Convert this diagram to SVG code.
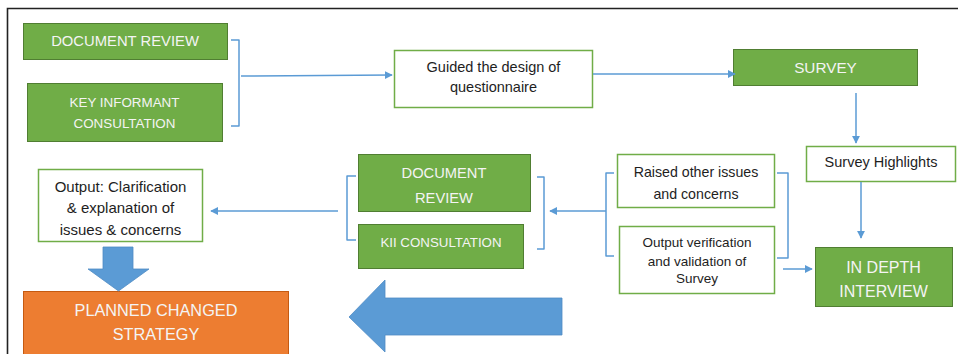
<svg xmlns="http://www.w3.org/2000/svg" width="958" height="354" viewBox="0 0 958 354">
  <defs>
    <marker id="arrow" viewBox="0 0 10 10" refX="9" refY="5" markerWidth="5.5" markerHeight="5.5" orient="auto" markerUnits="strokeWidth">
      <path d="M0,0 L10,5 L0,10 Z" fill="#5B9BD5"/>
    </marker>
    <style>
      .green { fill: #70AD47; stroke: #507E32; stroke-width: 1; }
      .white { fill: #FFFFFF; stroke: #70AD47; stroke-width: 1.5; }
      .orange { fill: #ED7D31; stroke: #C55A11; stroke-width: 1; }
      .block { fill: #5B9BD5; stroke: #4F8CC4; stroke-width: 0.8; }
      .lt { font-family: "Liberation Sans", Arial, sans-serif; fill: #F4F4F4; text-anchor: middle; }
      .dt { font-family: "Liberation Sans", Arial, sans-serif; fill: #1E1E1E; text-anchor: middle; }
      .conn { fill: none; stroke: #5B9BD5; stroke-width: 1.5; stroke-linejoin: round; }
    </style>
  </defs>

  <rect x="0" y="0" width="958" height="354" fill="#FFFFFF"/>
  <!-- outer frame -->
  <path d="M7.5,354 V8.5 H958" fill="none" stroke="#222" stroke-width="1.6"/>

  <g id="doc-review-1">
    <rect class="green" x="23.5" y="23.5" width="204" height="36"/>
    <text class="lt" x="125" y="46" font-size="14.8">DOCUMENT REVIEW</text>
  </g>

  <g id="key-informant">
    <rect class="green" x="27.5" y="83.5" width="195" height="58"/>
    <text class="lt" x="124.5" y="107" font-size="13.4">KEY INFORMANT</text>
    <text class="lt" x="124.5" y="128" font-size="13.4">CONSULTATION</text>
  </g>

  <g id="guided">
    <rect class="white" x="394.5" y="50.5" width="198" height="57"/>
    <text class="dt" x="493.5" y="72" font-size="14.5">Guided the design of</text>
    <text class="dt" x="493.5" y="92" font-size="14.5">questionnaire</text>
  </g>

  <g id="survey">
    <rect class="green" x="733.5" y="49.5" width="184" height="36"/>
    <text class="lt" x="825.5" y="73" font-size="15.3">SURVEY</text>
  </g>

  <g id="survey-highlights">
    <rect class="white" x="806.5" y="146.5" width="149" height="35"/>
    <text class="dt" x="881" y="167" font-size="14.5">Survey Highlights</text>
  </g>

  <g id="in-depth-interview">
    <rect class="green" x="815.5" y="247.5" width="137" height="59"/>
    <text class="lt" x="883.5" y="273" font-size="16">IN DEPTH</text>
    <text class="lt" x="883.5" y="297" font-size="16">INTERVIEW</text>
  </g>

  <g id="raised-issues">
    <rect class="white" x="617.5" y="154.5" width="157" height="53"/>
    <text class="dt" x="696" y="177" font-size="14.2">Raised other issues</text>
    <text class="dt" x="696" y="199" font-size="14.2">and concerns</text>
  </g>

  <g id="output-verification">
    <rect class="white" x="619.5" y="226.5" width="155" height="67"/>
    <text class="dt" x="697" y="247" font-size="13.5">Output verification</text>
    <text class="dt" x="697" y="266" font-size="13.5">and validation of</text>
    <text class="dt" x="697" y="283" font-size="13.5">Survey</text>
  </g>

  <g id="doc-review-2">
    <rect class="green" x="358.5" y="154.5" width="172" height="57"/>
    <text class="lt" x="444" y="178" font-size="14.7">DOCUMENT</text>
    <text class="lt" x="444" y="203" font-size="14.7">REVIEW</text>
  </g>

  <g id="kii-consultation">
    <rect class="green" x="358.5" y="224.5" width="165" height="44"/>
    <text class="lt" x="441" y="247" font-size="13.3">KII CONSULTATION</text>
  </g>

  <g id="output-clarification">
    <rect class="white" x="38.5" y="169.5" width="164" height="72"/>
    <text class="dt" x="120.5" y="192" font-size="15">Output: Clarification</text>
    <text class="dt" x="120.5" y="213" font-size="15">&amp; explanation of</text>
    <text class="dt" x="120.5" y="235" font-size="15">issues &amp; concerns</text>
  </g>

  <g id="planned-strategy">
    <rect class="orange" x="23.5" y="291.5" width="265" height="70"/>
    <text class="lt" x="156" y="316" font-size="16.3">PLANNED CHANGED</text>
    <text class="lt" x="156" y="340" font-size="16.3">STRATEGY</text>
  </g>

  <g id="connectors">
    <!-- bracket joining the two initial inputs -->
    <path class="conn" d="M231,40 H239 V126 H231"/>
    <path class="conn" d="M241,76 L392,75" marker-end="url(#arrow)"/>
    <path class="conn" d="M593,74 H735" marker-end="url(#arrow)"/>
    <path class="conn" d="M856,93 V143" marker-end="url(#arrow)"/>
    <path class="conn" d="M861,182 V238" marker-end="url(#arrow)"/>
    <!-- bracket round raised issues / output verification -->
    <path class="conn" d="M777,173 H788 V258 H777"/>
    <path class="conn" d="M783,269 H812" marker-end="url(#arrow)"/>
    <path class="conn" d="M614,173 H606 V256 H614"/>
    <path class="conn" d="M606,211 H550" marker-end="url(#arrow)"/>
    <!-- bracket round second document review / KII consultation -->
    <path class="conn" d="M537,177 H544 V249 H537"/>
    <path class="conn" d="M356,176 H347 V240 H356"/>
    <path class="conn" d="M338,211 H211" marker-end="url(#arrow)"/>
    <!-- block arrows -->
    <path class="block" d="M103,247 H133 V269 H149 L118.5,291 L88,269 H103 Z"/>
    <path class="block" d="M562,298 V335 H385 V352 L349,317 L385,280 V298 Z"/>
  </g>
</svg>
